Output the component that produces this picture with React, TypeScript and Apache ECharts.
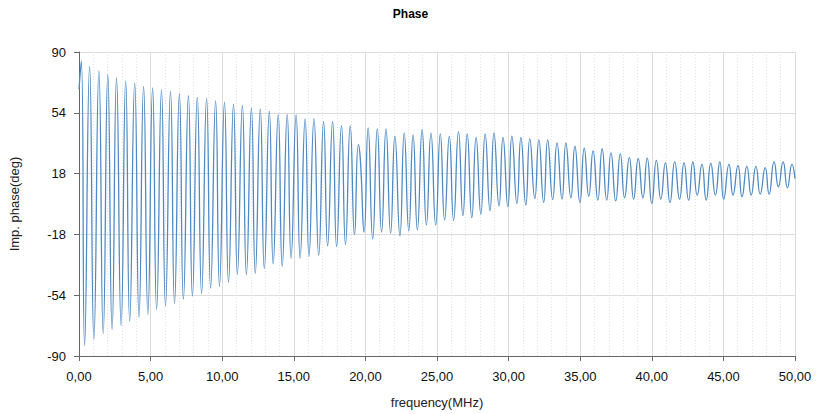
import { useEffect, useRef } from 'react';
import * as echarts from 'echarts';

// Frequencies (MHz) and phase (deg) of each local maximum
const peakFreq = [
  0.16, 0.74, 1.39, 2.01, 2.62, 3.26, 3.89, 4.51, 5.14, 5.76, 6.39, 7.01, 7.64, 8.26,
  8.91, 9.54, 10.16, 10.79, 11.41, 12.04, 12.66, 13.29, 13.91, 14.54, 15.16, 15.79, 16.41,
  17.08, 17.71, 18.33, 18.94, 19.51, 20.19, 20.83, 21.44, 22.06, 22.71, 23.33, 23.96, 24.58,
  25.23, 25.86, 26.5, 27.11, 27.73, 28.36, 28.98, 29.61, 30.23, 30.86, 31.48, 32.11, 32.73,
  33.38, 34.0, 34.63, 35.28, 35.9, 36.53, 37.15, 37.8, 38.43, 39.05, 39.68, 40.32, 40.95,
  41.6, 42.25, 42.87, 43.5, 44.12, 44.75, 45.39, 46.02, 46.64, 47.27, 47.92, 48.54, 49.17, 49.79,
];
const peakValue = [
  84.6, 81.3, 78.8, 76.8, 74.6, 72.9, 71.5, 69.6, 68.8, 67.6, 66.8, 65.5, 64.1, 63.1,
  62.5, 61.1, 60.1, 59.0, 58.2, 56.8, 56.2, 54.9, 52.9, 52.9, 52.7, 50.4, 50.4,
  48.8, 48.8, 46.4, 46.4, 35.2, 45.1, 44.5, 44.5, 40.2, 42.1, 40.9, 44.1, 42.0,
  41.5, 40.2, 42.9, 41.5, 39.5, 41.5, 42.1, 39.5, 40.2, 39.4, 38.6, 38.0, 38.0,
  36.2, 36.2, 34.2, 33.0, 31.5, 32.7, 30.3, 29.7, 27.4, 26.8, 27.2, 25.8, 24.3,
  24.9, 24.4, 24.9, 23.5, 24.1, 24.9, 23.5, 22.9, 22.3, 22.3, 21.5, 24.9, 24.9, 23.5,
];
// Frequencies (MHz) and phase (deg) of each local minimum
const troughFreq = [
  0.39, 1.04, 1.69, 2.31, 2.94, 3.54, 4.19, 4.81, 5.42, 6.04, 6.67, 7.29, 7.92,
  8.56, 9.19, 9.81, 10.44, 11.06, 11.69, 12.31, 12.94, 13.56, 14.19, 14.81, 15.44, 16.06,
  16.74, 17.36, 17.99, 18.61, 19.24, 19.91, 20.51, 21.13, 21.76, 22.41, 23.03, 23.63, 24.26, 24.91,
  25.53, 26.16, 26.81, 27.43, 28.06, 28.7, 29.33, 29.95, 30.58, 31.2, 31.83, 32.45, 33.08,
  33.73, 34.35, 34.98, 35.6, 36.23, 36.85, 37.48, 38.1, 38.73, 39.38, 40.0, 40.63, 41.27,
  41.94, 42.57, 43.17, 43.8, 44.44, 45.02, 45.67, 46.3, 46.94, 47.57, 48.19, 48.84, 49.47,
];
const troughValue = [
  -83.9, -80.1, -76.7, -74.2, -71.8, -69.3, -66.9, -65.4, -62.4, -60.4, -58.9, -56.5, -54.5,
  -53.0, -49.8, -48.7, -46.3, -41.5, -41.8, -41.1, -38.2, -35.5, -36.9, -32.0, -32.0, -31.0,
  -30.2, -24.8, -25.3, -24.0, -18.1, -16.7, -20.7, -16.7, -17.3, -18.9, -15.9, -15.3, -12.4, -12.4,
  -9.5, -9.8, -6.9, -8.1, -6.0, -4.0, -1.2, -1.6, 0.4, -0.6, 3.3, 0.9, 2.6,
  2.9, 3.7, 0.9, 4.7, 2.3, 2.3, 1.8, 3.7, 2.9, 3.7, 0.4, 2.9, 0.9,
  2.9, 2.3, 5.3, 2.3, 5.3, 2.9, 5.3, 4.3, 5.3, 5.9, 5.9, 10.2, 9.6,
];
// Start, the small shoulder near 19.6 MHz, and end of the trace
const otherFreq = [0, 19.65, 50];
const otherValue = [68, 26, 15];

const yTicks = [-90, -54, -18, 18, 54, 90];
const FONT = '"Liberation Sans", Arial, sans-serif';

export default function App() {
  const ref = useRef<HTMLDivElement>(null);
  useEffect(() => {
    const chart = echarts.init(ref.current!, null, { renderer: 'svg' });
    const pts: number[][] = [];
    peakFreq.forEach((f, i) => pts.push([f, peakValue[i]]));
    troughFreq.forEach((f, i) => pts.push([f, troughValue[i]]));
    otherFreq.forEach((f, i) => pts.push([f, otherValue[i]]));
    pts.sort((a, b) => a[0] - b[0]);

    chart.setOption({
      animation: false,
      title: {
        text: 'Phase',
        left: 'center',
        top: 3,
        textStyle: { fontSize: 12, fontWeight: 'bold', color: '#000', fontFamily: FONT },
      },
      grid: { left: 75, right: 26, top: 52, bottom: 57 },
      xAxis: {
        type: 'value',
        min: 0,
        max: 50,
        interval: 5,
        name: 'frequency(MHz)',
        nameLocation: 'middle',
        nameGap: 40,
        nameTextStyle: { fontSize: 13, color: '#222', fontFamily: FONT },
        axisLine: { show: true, onZero: false, lineStyle: { color: '#666', width: 1 } },
        axisTick: { show: true, length: 5, lineStyle: { color: '#666' } },
        axisLabel: {
          fontSize: 13,
          color: '#111',
          fontFamily: FONT,
          margin: 14,
          formatter: (v: number) => v.toFixed(2).replace('.', ','),
        },
        splitLine: { show: true, lineStyle: { color: '#dcdcdc', width: 1 } },
        minorTick: { show: false, splitNumber: 5 },
        minorSplitLine: { show: true, lineStyle: { color: '#e2e2e2', width: 1, type: [1, 2] } },
      },
      yAxis: {
        type: 'value',
        min: -90,
        max: 90,
        interval: 36,
        name: 'Imp. phase(deg)',
        nameLocation: 'middle',
        nameGap: 58,
        nameTextStyle: { fontSize: 13, color: '#222', fontFamily: FONT },
        axisLine: { show: true, onZero: false, lineStyle: { color: '#666', width: 1 } },
        axisTick: { show: true, length: 5, lineStyle: { color: '#666' } },
        axisLabel: {
          fontSize: 13,
          color: '#111',
          fontFamily: FONT,
          margin: 13,
          customValues: yTicks,
        },
        splitLine: { show: true, lineStyle: { color: '#dcdcdc', width: 1 } },
      },
      series: [
        {
          type: 'line',
          data: pts,
          showSymbol: false,
          symbol: 'none',
          smooth: 0.55,
          lineStyle: { color: '#4f8ac4', width: 1.3 },
        },
      ],
    });
    return () => chart.dispose();
  }, []);
  return (
    <div
      ref={ref}
      style={{ position: 'fixed', left: 0, top: 0, width: 821, height: 414, background: '#fff' }}
    />
  );
}
